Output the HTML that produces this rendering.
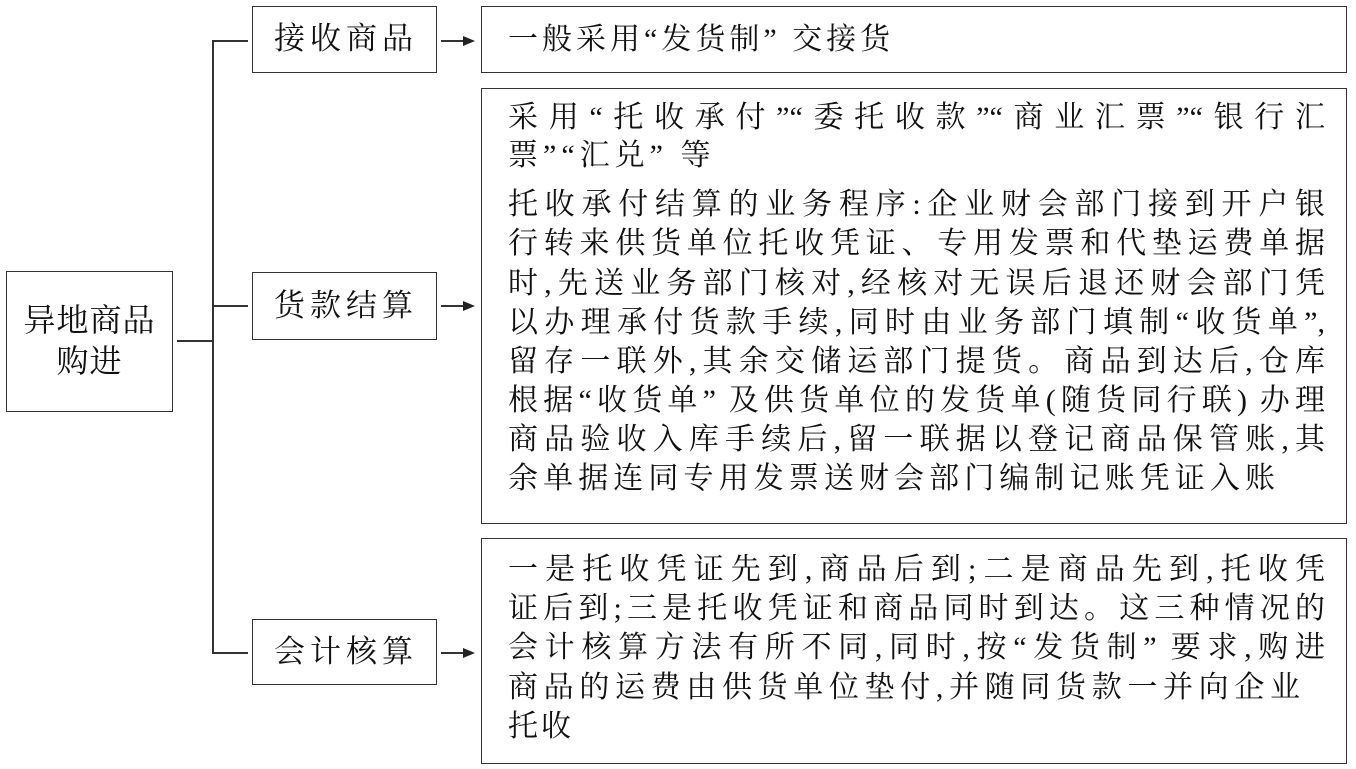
<!DOCTYPE html>
<html><head><meta charset="utf-8"><style>
body{margin:0;width:1356px;height:769px;background:#fff;position:relative;overflow:hidden;
font-family:"Liberation Serif","Noto Serif CJK SC","Noto Sans CJK SC",serif;color:#111}
.b{position:absolute;border:1.5px solid #333;box-sizing:border-box}
.l{position:absolute;background:#333}
.t{position:absolute;font-size:30px;line-height:40px;height:40px;white-space:nowrap;letter-spacing:3px}
.j{text-align:justify;text-align-last:justify;letter-spacing:0}
.s{position:absolute;font-size:31px;letter-spacing:5px;text-align:center;width:184px;line-height:40px}
.ar{position:absolute;width:0;height:0;border-left:12px solid #222;border-top:5px solid transparent;border-bottom:5px solid transparent}
</style></head><body>
<div class="b" style="left:6px;top:271px;width:167px;height:141px"></div>
<div class="t" style="left:6px;top:300px;width:167px;text-align:center;font-size:32px;letter-spacing:1px">异地商品</div>
<div class="t" style="left:6px;top:341px;width:167px;text-align:center;font-size:32px;letter-spacing:1px">购进</div>
<div class="l" style="left:177px;top:340px;width:36px;height:1.5px"></div>
<div class="l" style="left:212px;top:40px;width:1.5px;height:613px"></div>
<div class="l" style="left:212px;top:40px;width:36px;height:1.5px"></div>
<div class="l" style="left:212px;top:305px;width:36px;height:1.5px"></div>
<div class="l" style="left:212px;top:652px;width:36px;height:1.5px"></div>

<div class="b" style="left:252px;top:6px;width:185px;height:67px"></div>
<div class="s" style="left:254px;top:19px">接收商品</div>
<div class="b" style="left:252px;top:272px;width:185px;height:68px"></div>
<div class="s" style="left:254px;top:286px">货款结算</div>
<div class="b" style="left:252px;top:619px;width:185px;height:66px"></div>
<div class="s" style="left:254px;top:632px">会计核算</div>

<div class="l" style="left:441px;top:40px;width:24px;height:1.5px"></div><div class="ar" style="left:463px;top:36px"></div>
<div class="l" style="left:441px;top:305px;width:24px;height:1.5px"></div><div class="ar" style="left:463px;top:301px"></div>
<div class="l" style="left:441px;top:652px;width:24px;height:1.5px"></div><div class="ar" style="left:463px;top:648px"></div>

<div class="b" style="left:481px;top:6px;width:866px;height:67px"></div>
<div class="t" style="left:508px;top:20px;letter-spacing:4px">一般采用“发货制” 交接货</div>

<div class="b" style="left:481px;top:88px;width:866px;height:436px"></div>
<div class="t j" style="left:508px;top:98px;width:817px">采用“托收承付”“委托收款”“商业汇票”“银行汇</div>
<div class="t" style="left:508px;top:136px;letter-spacing:5px">票”“汇兑” 等</div>
<div class="t j" style="left:508px;top:185px;width:817px">托收承付结算的业务程序:企业财会部门接到开户银</div>
<div class="t j" style="left:508px;top:224px;width:817px">行转来供货单位托收凭证、专用发票和代垫运费单据</div>
<div class="t j" style="left:508px;top:264px;width:817px">时,先送业务部门核对,经核对无误后退还财会部门凭</div>
<div class="t j" style="left:508px;top:303px;width:817px">以办理承付货款手续,同时由业务部门填制“收货单”,</div>
<div class="t j" style="left:508px;top:342px;width:817px">留存一联外,其余交储运部门提货。商品到达后,仓库</div>
<div class="t j" style="left:508px;top:381px;width:817px">根据“收货单” 及供货单位的发货单(随货同行联) 办理</div>
<div class="t j" style="left:508px;top:420px;width:817px">商品验收入库手续后,留一联据以登记商品保管账,其</div>
<div class="t j" style="left:508px;top:459px;width:767px">余单据连同专用发票送财会部门编制记账凭证入账</div>

<div class="b" style="left:481px;top:538px;width:866px;height:226px"></div>
<div class="t j" style="left:508px;top:550px;width:817px">一是托收凭证先到,商品后到;二是商品先到,托收凭</div>
<div class="t j" style="left:508px;top:589px;width:817px">证后到;三是托收凭证和商品同时到达。这三种情况的</div>
<div class="t j" style="left:508px;top:628px;width:817px">会计核算方法有所不同,同时,按“发货制” 要求,购进</div>
<div class="t j" style="left:508px;top:668px;width:792px">商品的运费由供货单位垫付,并随同货款一并向企业</div>
<div class="t" style="left:508px;top:707px">托收</div>
</body></html>
